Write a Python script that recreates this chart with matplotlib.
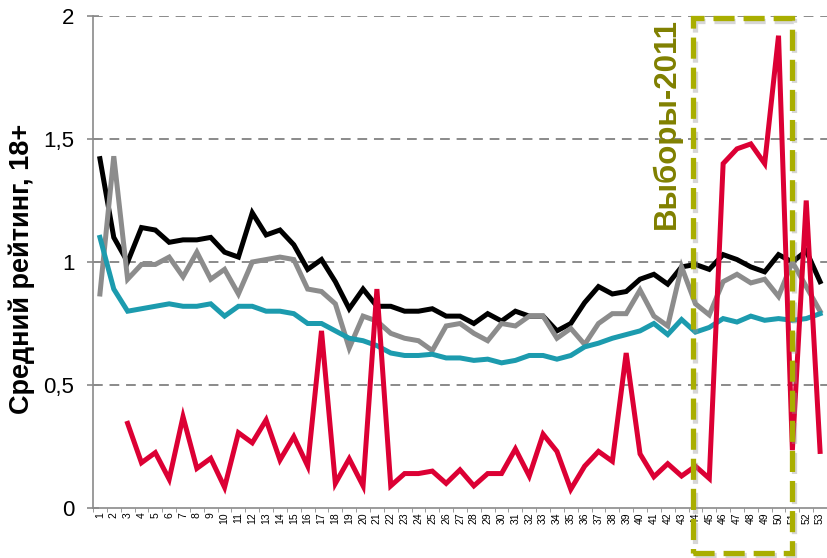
import numpy as np
import matplotlib
matplotlib.use("Agg")
import matplotlib.pyplot as plt
from matplotlib.patches import Rectangle
import matplotlib.patheffects as pe

weeks = list(range(1, 54))
week_labels = [str(w) for w in weeks]

black = [1.42, 1.10, 1.00, 1.14, 1.13, 1.08, 1.09, 1.09, 1.10, 1.04,
         1.02, 1.20, 1.11, 1.13, 1.07, 0.97, 1.01, 0.92, 0.81, 0.89,
         0.82, 0.82, 0.80, 0.80, 0.81, 0.78, 0.78, 0.75, 0.79, 0.76,
         0.80, 0.78, 0.78, 0.72, 0.75, 0.835, 0.90, 0.87, 0.88, 0.93,
         0.95, 0.91, 0.98, 0.99, 0.97, 1.03, 1.01, 0.98, 0.96, 1.03,
         1.00, 1.045, 0.92]
gray = [0.87, 1.43, 0.93, 0.99, 0.99, 1.02, 0.94, 1.04, 0.93, 0.97,
        0.87, 1.00, 1.01, 1.02, 1.01, 0.89, 0.88, 0.83, 0.65, 0.78,
        0.76, 0.71, 0.69, 0.68, 0.64, 0.74, 0.75, 0.71, 0.68, 0.75,
        0.74, 0.78, 0.78, 0.69, 0.73, 0.665, 0.75, 0.79, 0.79, 0.886,
        0.78, 0.74, 0.98, 0.83, 0.785, 0.92, 0.95, 0.915, 0.93, 0.86,
        1.00, 0.90, 0.80]
teal = [1.10, 0.89, 0.80, 0.81, 0.82, 0.83, 0.82, 0.82, 0.83, 0.78,
        0.82, 0.82, 0.80, 0.80, 0.79, 0.75, 0.75, 0.72, 0.69, 0.68,
        0.66, 0.63, 0.62, 0.62, 0.625, 0.61, 0.61, 0.60, 0.605, 0.59,
        0.60, 0.62, 0.62, 0.605, 0.62, 0.655, 0.67, 0.69, 0.705, 0.72,
        0.75, 0.705, 0.766, 0.715, 0.734, 0.77, 0.756, 0.78, 0.763, 0.77,
        0.763, 0.77, 0.79]
red = [np.nan, np.nan, 0.344, 0.184, 0.225, 0.117, 0.371, 0.161, 0.202, 0.084,
       0.306, 0.265, 0.358, 0.195, 0.29, 0.171, 0.72, 0.10, 0.20, 0.09,
       0.89, 0.09, 0.14, 0.14, 0.15, 0.10, 0.155, 0.09, 0.14, 0.14,
       0.24, 0.13, 0.30, 0.23, 0.076, 0.17, 0.23, 0.19, 0.63, 0.22,
       0.127, 0.18, 0.13, 0.17, 0.12, 1.40, 1.46, 1.48, 1.40, 1.92,
       0.235, 1.25, 0.23]

y_ticks = [0, 0.5, 1, 1.5, 2]
y_tick_labels = ["0", "0,5", "1", "1,5", "2"]

plt.rcParams['font.family'] = ['Liberation Sans', 'DejaVu Sans']

fig = plt.figure(figsize=(8.27, 5.58), dpi=100)
ax = fig.add_axes([93/827, 50/558, (827-93)/827, (508-16)/558])

ax.set_xlim(0.5, 53.5)
ax.set_ylim(0, 2)

for yv in y_ticks[1:]:
    ax.axhline(yv, color='#8a8a8a', lw=1.4, ls=(0, (5, 3.5)), zorder=1)

lw = 3.6
ax.plot(weeks, black, color='#000000', lw=lw, zorder=3, solid_joinstyle='miter')
ax.plot(weeks, gray, color='#8c8c8c', lw=lw, zorder=3.1, solid_joinstyle='miter')
ax.plot(weeks, teal, color='#1c9bae', lw=lw, zorder=3.2, solid_joinstyle='miter')
ax.plot(weeks, red, color='#dc0034', lw=lw, zorder=3.3, solid_joinstyle='miter')

ax.set_yticks(y_ticks)
ax.set_yticklabels(y_tick_labels, fontsize=16)
ax.set_xticks(weeks)
ax.set_xticklabels(week_labels, rotation=90, fontsize=7.5)
ax.set_xticks(np.arange(0.5, 54, 1), minor=True)
ax.tick_params(axis='x', which='major', length=0, pad=3)
ax.tick_params(axis='x', which='minor', length=3, color='#8a8a8a', direction='out')
ax.tick_params(axis='y', length=9, width=1.2, color='#8a8a8a', direction='inout', pad=9)

for s in ['top', 'right']:
    ax.spines[s].set_visible(False)
for s in ['left', 'bottom']:
    ax.spines[s].set_color('#8a8a8a')
    ax.spines[s].set_linewidth(1.2)

ax.set_ylabel("Средний рейтинг, 18+", fontsize=19.5, fontweight='bold')
ax.yaxis.set_label_coords(-0.079, 0.486)

rect = Rectangle((43.85, -0.183), 51.0 - 43.85, 1.99 + 0.183, fill=False,
                 edgecolor='#a9ae00', lw=3.8, ls=(0, (4, 1.7)), clip_on=False, zorder=5,
                 path_effects=[pe.SimpleLineShadow(offset=(1.5, -1.5), shadow_color='#999999', alpha=0.4),
                               pe.Normal()])
ax.add_patch(rect)

ax.text(41.95, 1.99, "Выборы-2011", rotation=90, ha='center', va='top',
        fontsize=22.5, fontweight='bold', color='#808000', zorder=6)

fig.savefig("out.png", dpi=100)
